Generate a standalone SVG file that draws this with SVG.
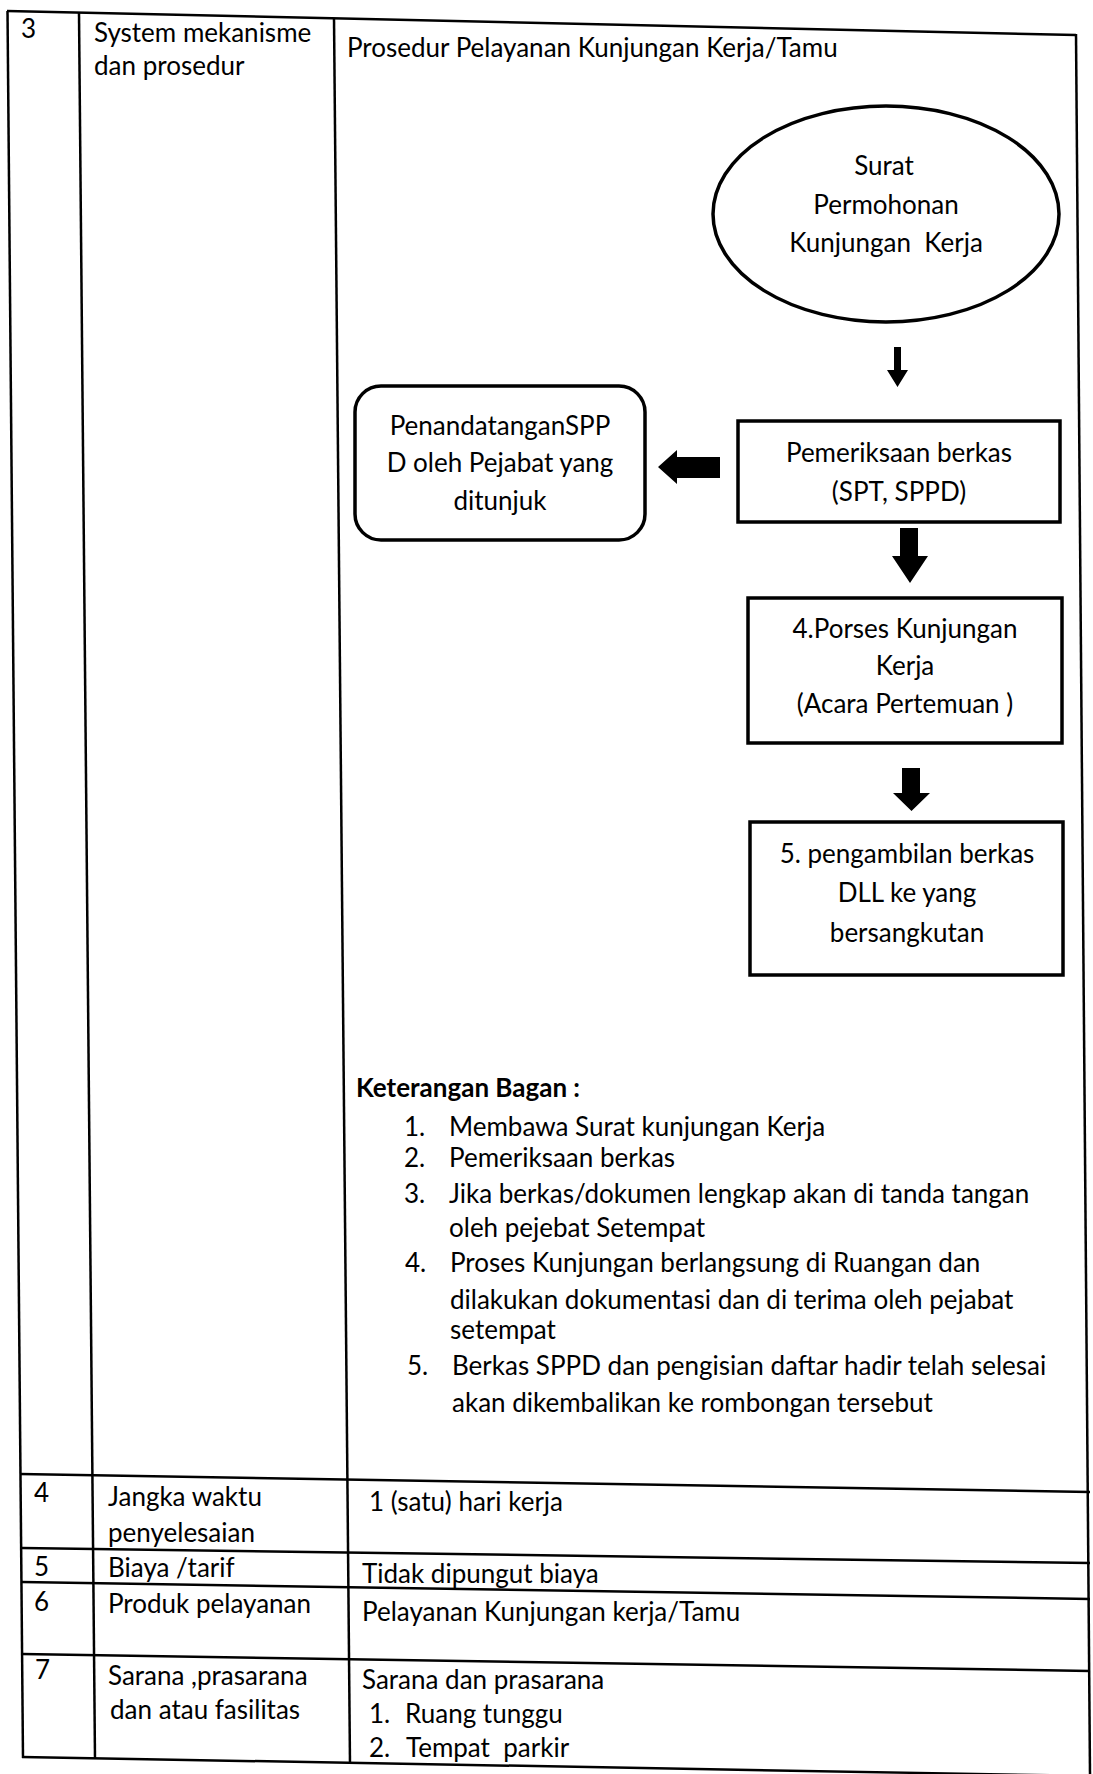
<svg xmlns="http://www.w3.org/2000/svg" width="1093" height="1774" viewBox="0 0 1093 1774">
<style>
  text { font-family: Lato, "Open Sans", "Liberation Sans", sans-serif; font-size: 26px; fill: #000; }
  .c { text-anchor: middle; }
  .b { font-weight: bold; }
  .tl { stroke: #000; stroke-width: 2.5; fill: none; }
  .node { stroke: #000; stroke-width: 3.5; fill: #fff; }
  .arr { fill: #000; stroke: none; }
</style>
<rect x="0" y="0" width="1093" height="1774" fill="#fff"/>

<g id="table">
  <line class="tl" x1="7" y1="11" x2="1076" y2="35"/>
  <line class="tl" x1="7.5" y1="11" x2="23" y2="1758"/>
  <line class="tl" x1="79" y1="13" x2="95" y2="1759"/>
  <line class="tl" x1="334" y1="18" x2="350" y2="1764"/>
  <line class="tl" x1="1076" y1="34" x2="1090" y2="1774"/>
  <line class="tl" x1="20" y1="1474" x2="1090" y2="1492"/>
  <line class="tl" x1="22" y1="1548" x2="1090" y2="1563"/>
  <line class="tl" x1="22" y1="1582" x2="1090" y2="1599"/>
  <line class="tl" x1="22" y1="1654" x2="1090" y2="1671"/>
  <line class="tl" x1="22" y1="1757" x2="1093" y2="1776"/>
</g>

<g id="row3-text">
  <text x="21" y="38">3</text>
  <text x="94" y="42">System mekanisme</text>
  <text x="94" y="75">dan prosedur</text>
  <text x="347" y="57">Prosedur Pelayanan Kunjungan Kerja/Tamu</text>
</g>

<g id="node-surat">
  <ellipse class="node" cx="886" cy="214" rx="173" ry="108"/>
  <text class="c" x="884" y="175">Surat</text>
  <text class="c" x="886" y="214">Permohonan</text>
  <text class="c" x="886" y="252" xml:space="preserve">Kunjungan  Kerja</text>
</g>

<g id="node-pemeriksaan">
  <rect class="node" x="738" y="421" width="322" height="101"/>
  <text class="c" x="899" y="462">Pemeriksaan berkas</text>
  <text class="c" x="899" y="501">(SPT, SPPD)</text>
</g>

<g id="node-penandatangan">
  <rect class="node" x="355" y="386" width="290" height="154" rx="26" ry="26"/>
  <text class="c" x="500" y="435">PenandatanganSPP</text>
  <text class="c" x="500" y="472">D oleh Pejabat yang</text>
  <text class="c" x="500" y="510">ditunjuk</text>
</g>

<g id="node-porses">
  <rect class="node" x="748" y="598" width="314" height="145"/>
  <text class="c" x="905" y="638">4.Porses Kunjungan</text>
  <text class="c" x="905" y="675">Kerja</text>
  <text class="c" x="905" y="713">(Acara Pertemuan )</text>
</g>

<g id="node-pengambilan">
  <rect class="node" x="750" y="822" width="313" height="153"/>
  <text class="c" x="907" y="863">5. pengambilan berkas</text>
  <text class="c" x="907" y="902">DLL ke yang</text>
  <text class="c" x="907" y="942">bersangkutan</text>
</g>

<g id="connectors">
  <polygon class="arr" points="894,347 901,347 901,370 908,370 897.5,387 887,370 894,370"/>
  <polygon class="arr" points="658,467 677,450 677,457 720,457 720,478 677,478 677,484"/>
  <polygon class="arr" points="900,528 918,528 918,556 928,556 910,583 892,556 900,556"/>
  <polygon class="arr" points="902,768 920,768 920,793 930,793 911.5,811 893,793 902,793"/>
</g>

<g id="keterangan">
  <text class="b" x="356" y="1097">Keterangan Bagan :</text>
  <text x="404" y="1136">1.</text>
  <text x="449" y="1136">Membawa Surat kunjungan Kerja</text>
  <text x="404" y="1167">2.</text>
  <text x="449" y="1167">Pemeriksaan berkas</text>
  <text x="404" y="1203">3.</text>
  <text x="449" y="1203">Jika berkas/dokumen lengkap akan di tanda tangan</text>
  <text x="449" y="1237">oleh pejebat Setempat</text>
  <text x="405" y="1272">4.</text>
  <text x="450" y="1272">Proses Kunjungan berlangsung di Ruangan dan</text>
  <text x="450" y="1309">dilakukan dokumentasi dan di terima oleh pejabat</text>
  <text x="450" y="1339">setempat</text>
  <text x="407" y="1375">5.</text>
  <text x="452" y="1375">Berkas SPPD dan pengisian daftar hadir telah selesai</text>
  <text x="452" y="1412">akan dikembalikan ke rombongan tersebut</text>
</g>

<g id="rows-4-7">
  <text x="34" y="1502">4</text>
  <text x="108" y="1506">Jangka waktu</text>
  <text x="108" y="1542">penyelesaian</text>
  <text x="369" y="1511">1 (satu) hari kerja</text>
  <text x="34" y="1576">5</text>
  <text x="108" y="1577">Biaya /tarif</text>
  <text x="362" y="1583">Tidak dipungut biaya</text>
  <text x="34" y="1611">6</text>
  <text x="108" y="1613">Produk pelayanan</text>
  <text x="362" y="1621">Pelayanan Kunjungan kerja/Tamu</text>
  <text x="35" y="1679">7</text>
  <text x="108" y="1685">Sarana ,prasarana</text>
  <text x="110" y="1719">dan atau fasilitas</text>
  <text x="362" y="1689">Sarana dan prasarana</text>
  <text x="369" y="1723">1.</text>
  <text x="405" y="1723">Ruang tunggu</text>
  <text x="369" y="1757">2.</text>
  <text x="406" y="1757" xml:space="preserve">Tempat  parkir</text>
</g>
</svg>
